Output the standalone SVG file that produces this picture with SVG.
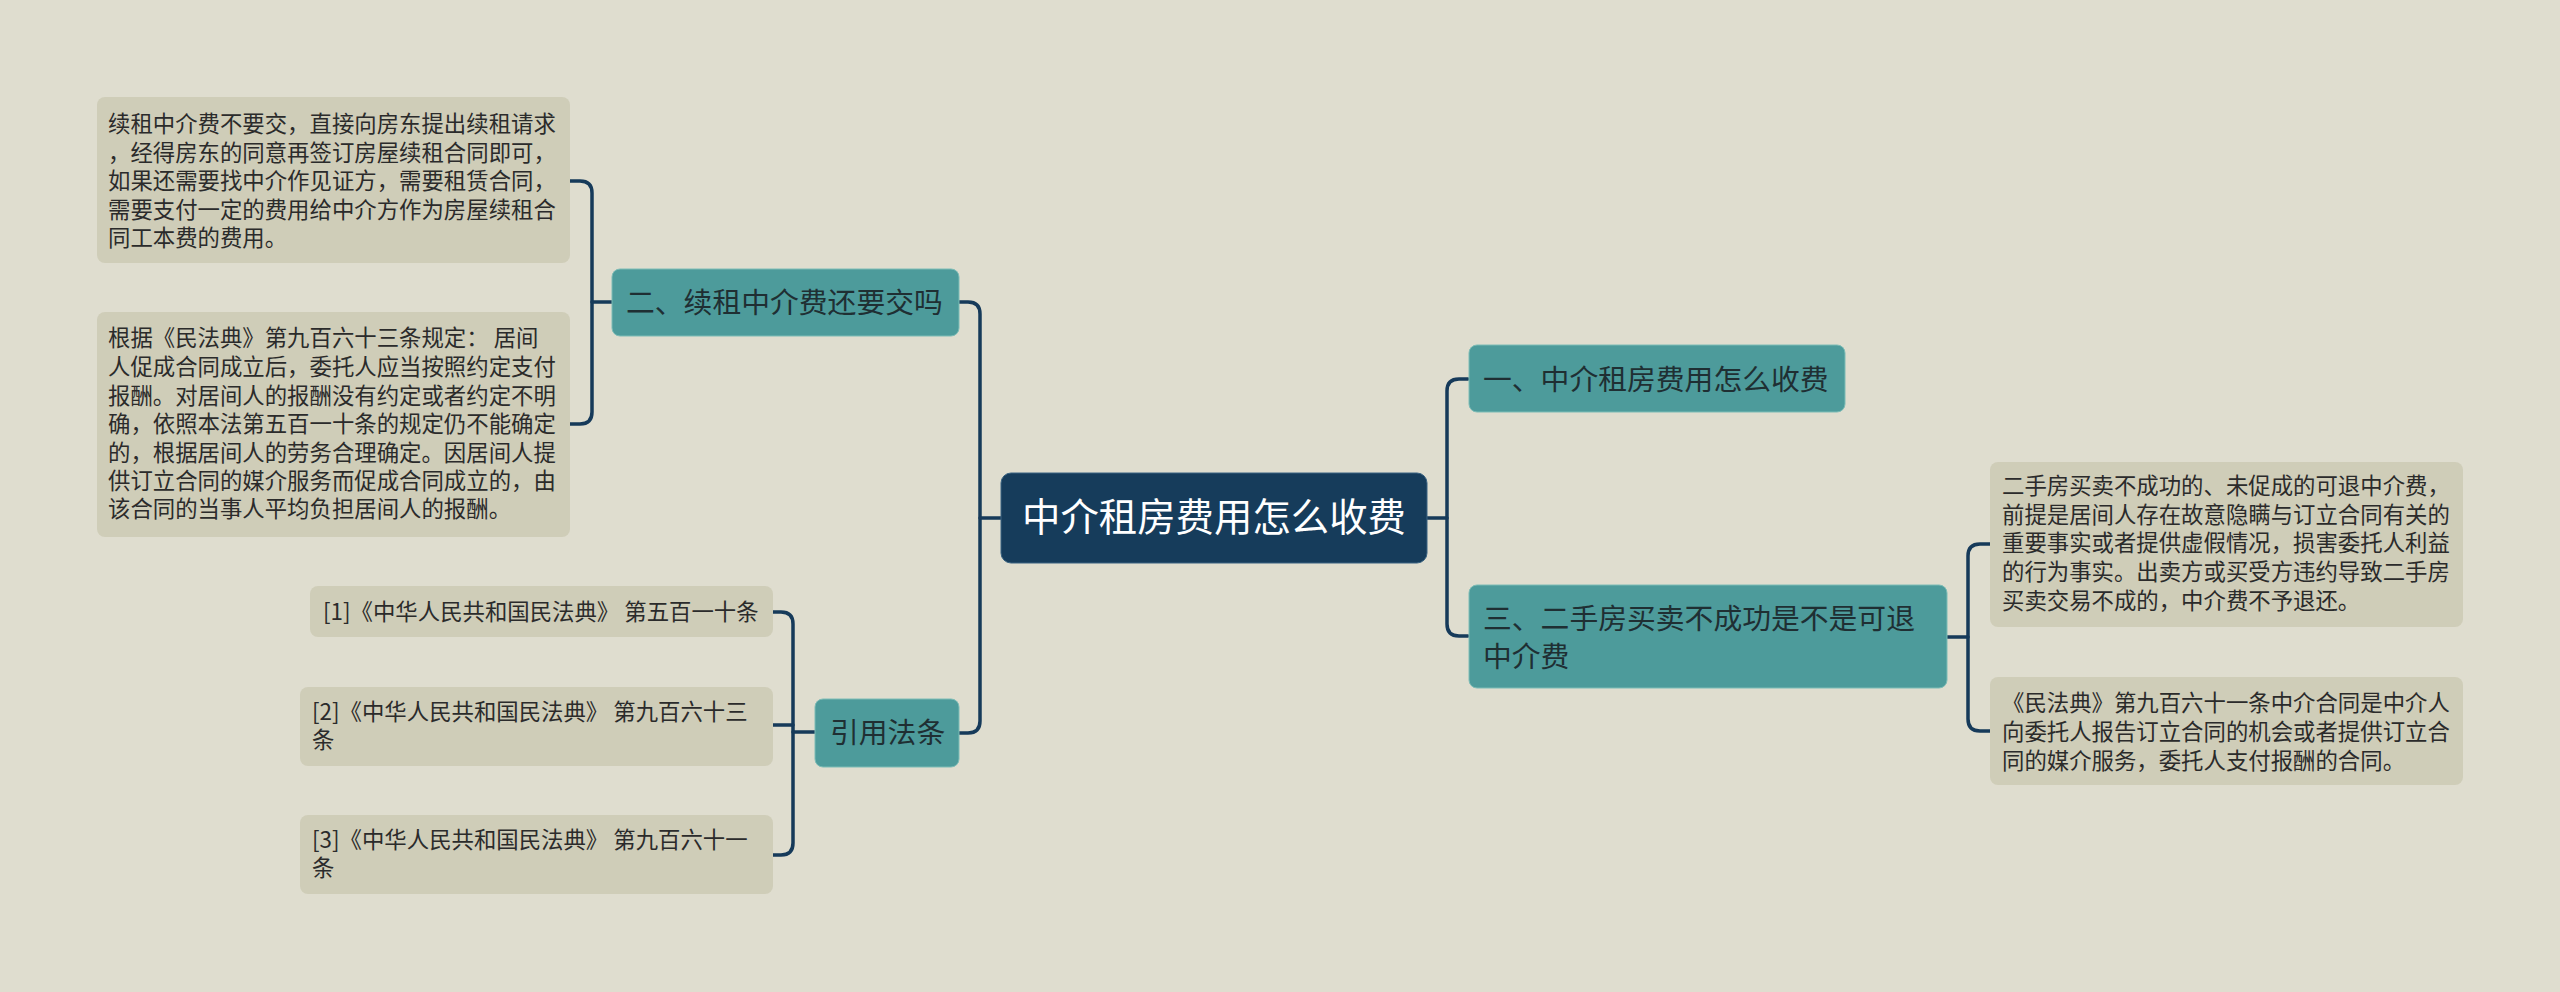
<svg xmlns="http://www.w3.org/2000/svg" width="2560" height="992" viewBox="0 0 2560 992">
<style>
text{font-family:"Noto Sans CJK SC","Noto Sans",sans-serif;}
.leaf{fill:#cfcdb8;}
.topic{fill:#4d9b9b;stroke:#7dbcb6;stroke-width:1;}
.main{fill:#163c5b;stroke:#3a6382;stroke-width:1;}
.lt{font-size:22.4px;fill:#2b2b2b;}
.tt{font-size:28.8px;fill:#1f2f33;}
.mt{font-size:38.4px;fill:#ffffff;text-anchor:middle;}
.conn path{fill:none;stroke:#163a5a;stroke-width:3.5;stroke-linecap:round;}
</style>
<rect x="0" y="0" width="2560" height="992" fill="#dfddcf"/>
<g id="connectors" class="conn">
<path d="M959,302 H968 Q980,302 980,314 V721 Q980,733 968,733 H959"/>
<path d="M980,518 H1001"/>
<path d="M570,181 H580 Q592,181 592,193 V412 Q592,424 580,424 H570"/>
<path d="M592,302 H612"/>
<path d="M773,612 H781 Q793,612 793,624 V843 Q793,855 781,855 H773"/>
<path d="M773,725 H793"/>
<path d="M793,732 H815"/>
<path d="M1427,518 H1447"/>
<path d="M1468,379 H1459 Q1447,379 1447,391 V624 Q1447,636 1459,636 H1468"/>
<path d="M1947,637 H1968"/>
<path d="M1990,544 H1980 Q1968,544 1968,556 V719 Q1968,731 1980,731 H1990"/>
</g>
<g id="main">
<rect class="main" x="1001" y="473" width="426" height="90" rx="10"/>
<text class="mt" x="1214" y="531">中介租房费用怎么收费</text>
</g>
<g id="topic2">
<rect class="topic" x="612" y="269" width="347" height="67" rx="8"/>
<text class="tt" x="626" y="313">二、续租中介费还要交吗</text>
</g>
<g id="topicRef">
<rect class="topic" x="815" y="699" width="144" height="68" rx="8"/>
<text class="tt" x="830" y="743">引用法条</text>
</g>
<g id="topic1">
<rect class="topic" x="1469" y="345" width="376" height="67" rx="8"/>
<text class="tt" x="1483" y="390">一、中介租房费用怎么收费</text>
</g>
<g id="topic3">
<rect class="topic" x="1469" y="585" width="478" height="103" rx="8"/>
<text class="tt" x="1483" y="629">三、二手房买卖不成功是不是可退</text>
<text class="tt" x="1483" y="667">中介费</text>
</g>
<g id="leafL1">
<rect class="leaf" x="97" y="97" width="473" height="166" rx="8"/>
<text class="lt" x="108" y="132">续租中介费不要交，直接向房东提出续租请求</text>
<text class="lt" x="108" y="161">，经得房东的同意再签订房屋续租合同即可，</text>
<text class="lt" x="108" y="189">如果还需要找中介作见证方，需要租赁合同，</text>
<text class="lt" x="108" y="218">需要支付一定的费用给中介方作为房屋续租合</text>
<text class="lt" x="108" y="246">同工本费的费用。</text>
</g>
<g id="leafL2">
<rect class="leaf" x="97" y="312" width="473" height="225" rx="8"/>
<text class="lt" x="108" y="346">根据《民法典》第九百六十三条规定： 居间</text>
<text class="lt" x="108" y="375">人促成合同成立后，委托人应当按照约定支付</text>
<text class="lt" x="108" y="404">报酬。对居间人的报酬没有约定或者约定不明</text>
<text class="lt" x="108" y="432">确，依照本法第五百一十条的规定仍不能确定</text>
<text class="lt" x="108" y="461">的，根据居间人的劳务合理确定。因居间人提</text>
<text class="lt" x="108" y="489">供订立合同的媒介服务而促成合同成立的，由</text>
<text class="lt" x="108" y="517">该合同的当事人平均负担居间人的报酬。</text>
</g>
<g id="ref1">
<rect class="leaf" x="310" y="586" width="463" height="51" rx="8"/>
<text class="lt" x="323" y="620">[1]《中华人民共和国民法典》 第五百一十条</text>
</g>
<g id="ref2">
<rect class="leaf" x="300" y="687" width="473" height="79" rx="8"/>
<text class="lt" x="312" y="720">[2]《中华人民共和国民法典》 第九百六十三</text>
<text class="lt" x="312" y="748">条</text>
</g>
<g id="ref3">
<rect class="leaf" x="300" y="815" width="473" height="79" rx="8"/>
<text class="lt" x="312" y="848">[3]《中华人民共和国民法典》 第九百六十一</text>
<text class="lt" x="312" y="876">条</text>
</g>
<g id="leafR1">
<rect class="leaf" x="1990" y="462" width="473" height="165" rx="8"/>
<text class="lt" x="2002" y="494">二手房买卖不成功的、未促成的可退中介费，</text>
<text class="lt" x="2002" y="523">前提是居间人存在故意隐瞒与订立合同有关的</text>
<text class="lt" x="2002" y="551">重要事实或者提供虚假情况，损害委托人利益</text>
<text class="lt" x="2002" y="580">的行为事实。出卖方或买受方违约导致二手房</text>
<text class="lt" x="2002" y="609">买卖交易不成的，中介费不予退还。</text>
</g>
<g id="leafR2">
<rect class="leaf" x="1990" y="677" width="473" height="108" rx="8"/>
<text class="lt" x="2002" y="711">《民法典》第九百六十一条中介合同是中介人</text>
<text class="lt" x="2002" y="740">向委托人报告订立合同的机会或者提供订立合</text>
<text class="lt" x="2002" y="769">同的媒介服务，委托人支付报酬的合同。</text>
</g>
</svg>
